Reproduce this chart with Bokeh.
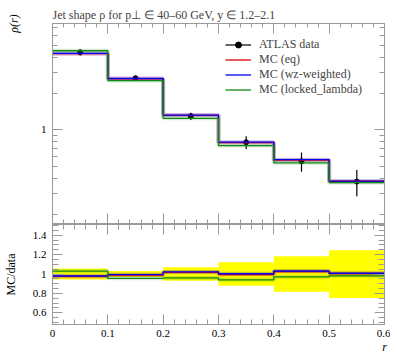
import math
import numpy as np
from bokeh.plotting import figure
from bokeh.layouts import column
from bokeh.models import (Range1d, FixedTicker, LinearAxis, LogAxis, Legend,
                          LegendItem, ColumnDataSource)
from bokeh.embed import file_html
from bokeh.resources import INLINE

# ---------------- data ----------------
edges = [0.0, 0.1, 0.2, 0.3, 0.4, 0.5, 0.6]
r_mid = [0.05, 0.15, 0.25, 0.35, 0.45, 0.55]
data = [4.39, 2.68, 1.30, 0.79, 0.55, 0.374]
data_err = [0.25, 0.08, 0.09, 0.095, 0.10, 0.092]
mc_eq = [4.28, 2.653, 1.322, 0.786, 0.564, 0.376]
mc_wz = [4.30, 2.665, 1.328, 0.792, 0.567, 0.377]
mc_locked = [4.52, 2.56, 1.248, 0.743, 0.534, 0.367]

x_ticks = [0.0, 0.1, 0.2, 0.3, 0.4, 0.5, 0.6]
x_tick_labels = ["0", "0.1", "0.2", "0.3", "0.4", "0.5", "0.6"]
x_minor = [round(i * 0.02, 2) for i in range(31)]
y_main_ticks = [1.0]
y_main_minor = [0.2, 0.3, 0.4, 0.5, 0.6, 0.7, 0.8, 0.9, 2, 3, 4, 5, 6, 7]
ratio_ticks = [0.6, 0.8, 1.0, 1.2, 1.4]
ratio_tick_labels = ["0.6", "0.8", "1", "1.2", "1.4"]
ratio_minor = [round(0.45 + i * 0.05, 2) for i in range(23)]

series = [("MC (eq)", mc_eq, "#e00000"),
          ("MC (wz-weighted)", mc_wz, "#0000ee"),
          ("MC (locked_lambda)", mc_locked, "#118811")]

GRAY = "#9a9a9a"
SERIF = "Liberation Serif"

def step_y(vals):
    return list(vals) + [vals[-1]]

def style_axis(ax, labels=True, major=10, minor=5):
    ax.axis_line_color = GRAY
    ax.major_tick_line_color = GRAY
    ax.minor_tick_line_color = GRAY
    ax.major_tick_in = major
    ax.major_tick_out = 0
    ax.minor_tick_in = minor
    ax.minor_tick_out = 0
    ax.major_label_text_font = SERIF
    ax.major_label_text_color = "black"
    ax.axis_label_text_font = SERIF
    ax.axis_label_text_font_size = "12px"
    ax.axis_label_text_color = "black"
    if labels:
        ax.major_label_text_font_size = "11px"
        ax.major_label_standoff = 6
    else:
        ax.major_label_text_font_size = "1px"
        ax.major_label_text_alpha = 0
        ax.major_label_standoff = 0

def set_align(ax, where):
    if "axis_label_align" in ax.properties():
        ax.axis_label_align = where
        return True
    return False

# ---------------- main panel ----------------
p = figure(width=390, height=224, y_axis_type="log",
           x_range=Range1d(0, 0.6), y_range=Range1d(0.165, 7.6),
           output_backend="svg", toolbar_location=None,
           min_border_left=49, min_border_right=6, min_border_top=23,
           min_border_bottom=0)
p.xgrid.visible = False
p.ygrid.visible = False
p.outline_line_color = GRAY
p.background_fill_color = "white"
p.border_fill_color = "white"
p.title.text = "Jet shape \u03c1 for p\u22a5 \u2208 40\u201360 GeV, y \u2208 1.2\u20132.1"
p.title.text_font = SERIF
p.title.text_font_size = "12px"
p.title.text_font_style = "normal"
p.title.align = "left"
p.title.standoff = 4

xt = FixedTicker(ticks=x_ticks, minor_ticks=x_minor)
yt = FixedTicker(ticks=y_main_ticks, minor_ticks=y_main_minor)
p.xaxis.ticker = xt
p.yaxis.ticker = yt
p.yaxis.major_label_overrides = {1.0: "1"}
for ax in p.xaxis:
    style_axis(ax, labels=False, major=11)
for ax in p.yaxis:
    style_axis(ax, labels=True)
    ax.axis_label = "\u03c1(r)"
    ax.axis_label_text_font_style = "italic"
    ax.axis_label_standoff = 17
    set_align(ax, "end")
top_ax = LinearAxis(ticker=xt)
style_axis(top_ax, labels=False, major=10, minor=4)
p.add_layout(top_ax, "above")
right_ax = LogAxis(ticker=yt)
style_axis(right_ax, labels=False)
p.add_layout(right_ax, "right")

legend_items = []
err_src = ColumnDataSource(dict(x=r_mid,
                                lo=[d - e for d, e in zip(data, data_err)],
                                hi=[d + e for d, e in zip(data, data_err)]))
p.segment(x0="x", y0="lo", x1="x", y1="hi", source=err_src,
          line_color="black", line_width=1.2)
dummy = p.line(x=[-1.0, -0.9], y=[1.0, 1.0], line_color="black", line_width=1.2)
pts = p.scatter(x=r_mid, y=data, size=5, color="black")
legend_items.append(LegendItem(label="ATLAS data", renderers=[dummy, pts]))

for name, vals, col in series:
    p.step(x=edges, y=step_y(vals), mode="after", line_color=col,
           line_width=4, line_alpha=0.18)
for name, vals, col in series:
    r = p.step(x=edges, y=step_y(vals), mode="after", line_color=col,
               line_width=1.3)
    legend_items.append(LegendItem(label=name, renderers=[r]))

legend = Legend(items=legend_items, location=(173, 127),
                background_fill_alpha=0, border_line_alpha=0,
                padding=0, margin=0, spacing=0,
                label_height=15, glyph_height=15, glyph_width=26,
                label_standoff=8, label_text_font=SERIF,
                label_text_font_size="12px")
p.add_layout(legend, "center")

# ---------------- ratio panel ----------------
q = figure(width=390, height=134,
           x_range=p.x_range, y_range=Range1d(0.48, 1.51),
           output_backend="svg", toolbar_location=None,
           min_border_left=49, min_border_right=6, min_border_top=0,
           min_border_bottom=34)
q.xgrid.visible = False
q.ygrid.visible = False
q.outline_line_color = GRAY
q.background_fill_color = "white"
q.border_fill_color = "white"

rt = FixedTicker(ticks=ratio_ticks, minor_ticks=ratio_minor)
q.xaxis.ticker = xt
q.yaxis.ticker = rt
q.xaxis.major_label_overrides = {t: l for t, l in zip(x_ticks, x_tick_labels)}
q.yaxis.major_label_overrides = {t: l for t, l in zip(ratio_ticks, ratio_tick_labels)}
for ax in q.xaxis:
    style_axis(ax, labels=True, major=10)
    ax.major_label_standoff = 5
    ax.axis_label = "r"
    ax.axis_label_text_font_style = "italic"
    ax.axis_label_standoff = 0
    set_align(ax, "end")
for ax in q.yaxis:
    style_axis(ax, labels=True, major=10, minor=6)
    ax.axis_label = "MC/data"
    ax.axis_label_text_font_style = "normal"
    ax.axis_label_standoff = 12
q_top = LinearAxis(ticker=xt)
style_axis(q_top, labels=False, major=10, minor=5)
q.add_layout(q_top, "above")
q_right = LinearAxis(ticker=rt)
style_axis(q_right, labels=False, major=10, minor=6)
q.add_layout(q_right, "right")

rel = [e / d for e, d in zip(data_err, data)]
q.quad(left=edges[:-1], right=edges[1:],
       bottom=[1 - x for x in rel], top=[1 + x for x in rel],
       fill_color="#ffff00", line_color=None)
for name, vals, col in series:
    ratio = [m / d for m, d in zip(vals, data)]
    q.step(x=edges, y=step_y(ratio), mode="after", line_color=col,
           line_width=4, line_alpha=0.18)
for name, vals, col in series:
    ratio = [m / d for m, d in zip(vals, data)]
    q.step(x=edges, y=step_y(ratio), mode="after", line_color=col, line_width=1.3)

layout = column(p, q, spacing=0)
open("out.html", "w").write(file_html(layout, INLINE))
